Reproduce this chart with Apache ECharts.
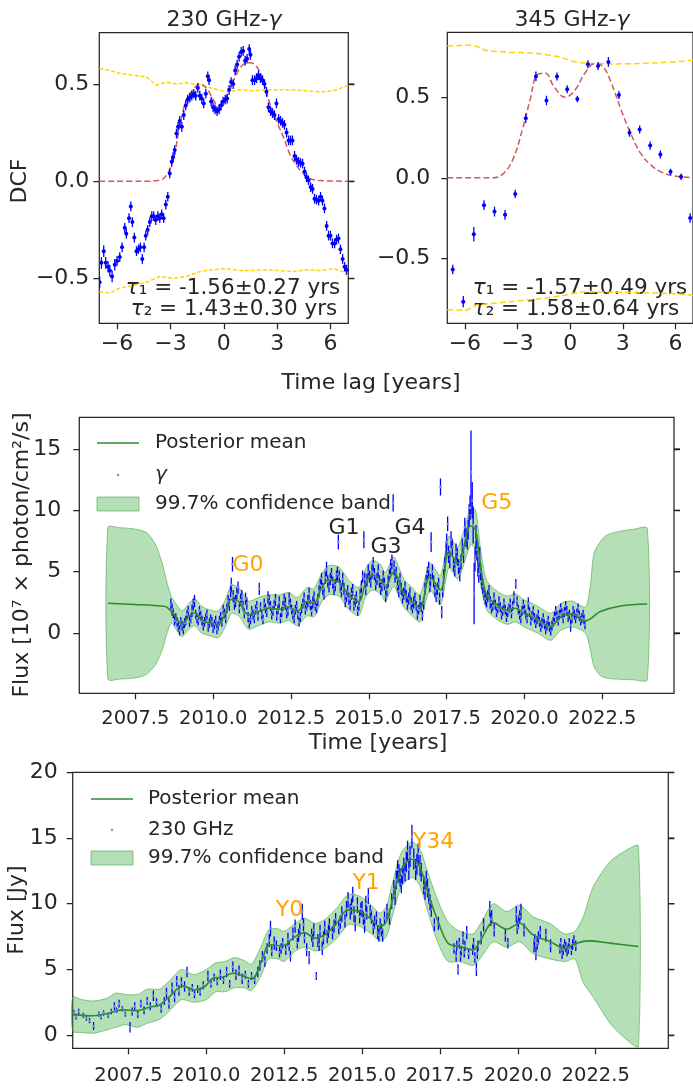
<!DOCTYPE html>
<html><head><meta charset="utf-8">
<script src="https://cdn.jsdelivr.net/npm/echarts@6/dist/echarts.min.js"></script>
<style>html,body{margin:0;padding:0;background:#fff}#c{width:693px;height:1090px}</style>
</head><body><div id="c"></div>
<script>
// ---------------- DATA ----------------
// DCF 230 GHz - gamma : [lag, dcf, err]
const dcf230 = [[-6.98,-0.52,0.03],[-6.88,-0.42,0.03],[-6.75,-0.36,0.03],[-6.64,-0.42,0.03],[-6.51,-0.44,0.03],[-6.41,-0.46,0.03],[-6.28,-0.49,0.03],[-6.13,-0.43,0.03],[-6.00,-0.41,0.025],[-5.85,-0.39,0.025],[-5.72,-0.34,0.025],[-5.57,-0.24,0.025],[-5.48,-0.27,0.025],[-5.33,-0.19,0.025],[-5.23,-0.13,0.025],[-5.14,-0.21,0.025],[-5.03,-0.29,0.025],[-4.91,-0.36,0.025],[-4.80,-0.35,0.025],[-4.69,-0.34,0.025],[-4.58,-0.40,0.025],[-4.48,-0.34,0.025],[-4.39,-0.28,0.025],[-4.28,-0.25,0.025],[-4.16,-0.21,0.025],[-4.05,-0.18,0.025],[-3.94,-0.18,0.025],[-3.83,-0.20,0.025],[-3.71,-0.18,0.025],[-3.60,-0.19,0.025],[-3.49,-0.17,0.025],[-3.38,-0.19,0.025],[-3.26,-0.12,0.025],[-3.15,-0.08,0.025],[-3.04,0.04,0.025],[-2.93,0.10,0.025],[-2.85,0.125,0.025],[-2.76,0.16,0.025],[-2.66,0.245,0.025],[-2.57,0.28,0.025],[-2.48,0.31,0.025],[-2.36,0.28,0.025],[-2.25,0.34,0.025],[-2.14,0.39,0.025],[-2.03,0.42,0.025],[-1.91,0.43,0.025],[-1.80,0.44,0.025],[-1.69,0.45,0.025],[-1.58,0.44,0.025],[-1.46,0.48,0.025],[-1.35,0.44,0.025],[-1.24,0.425,0.025],[-1.13,0.40,0.025],[-1.01,0.45,0.025],[-0.90,0.54,0.025],[-0.83,0.52,0.025],[-0.71,0.41,0.025],[-0.60,0.38,0.025],[-0.49,0.37,0.025],[-0.38,0.36,0.025],[-0.26,0.37,0.025],[-0.15,0.39,0.025],[-0.04,0.41,0.025],[0.08,0.42,0.025],[0.19,0.425,0.025],[0.30,0.47,0.025],[0.41,0.51,0.025],[0.53,0.50,0.025],[0.64,0.57,0.025],[0.75,0.60,0.025],[0.86,0.64,0.025],[0.98,0.665,0.025],[1.09,0.67,0.025],[1.20,0.62,0.025],[1.31,0.63,0.025],[1.43,0.68,0.025],[1.50,0.65,0.025],[1.61,0.52,0.025],[1.73,0.52,0.025],[1.84,0.53,0.025],[1.95,0.545,0.025],[2.06,0.53,0.025],[2.18,0.52,0.025],[2.29,0.50,0.025],[2.40,0.46,0.025],[2.51,0.38,0.025],[2.63,0.36,0.025],[2.74,0.35,0.025],[2.85,0.34,0.025],[2.96,0.40,0.025],[3.08,0.32,0.025],[3.19,0.31,0.025],[3.30,0.30,0.025],[3.41,0.29,0.025],[3.53,0.25,0.025],[3.64,0.21,0.025],[3.75,0.21,0.025],[3.86,0.21,0.025],[3.98,0.13,0.025],[4.09,0.11,0.025],[4.20,0.10,0.025],[4.31,0.095,0.025],[4.43,0.09,0.025],[4.54,0.05,0.025],[4.65,0.02,0.025],[4.76,0.005,0.025],[4.88,-0.03,0.025],[4.99,-0.04,0.025],[5.10,-0.09,0.025],[5.21,-0.095,0.025],[5.33,-0.10,0.025],[5.44,-0.08,0.025],[5.55,-0.10,0.025],[5.66,-0.14,0.025],[5.78,-0.23,0.025],[5.89,-0.28,0.025],[6.00,-0.28,0.025],[6.11,-0.32,0.025],[6.23,-0.32,0.025],[6.34,-0.30,0.025],[6.45,-0.295,0.025],[6.56,-0.35,0.025],[6.68,-0.40,0.025],[6.79,-0.44,0.025],[6.90,-0.455,0.025]];
const fit230 = [[-7,0],[-4.5,0],[-3.6,0.005],[-3.23,0.03],[-2.85,0.11],[-2.48,0.28],[-2.10,0.42],[-1.73,0.47],[-1.35,0.50],[-0.98,0.48],[-0.60,0.42],[-0.32,0.39],[-0.04,0.41],[0.34,0.47],[0.71,0.55],[1.09,0.60],[1.46,0.61],[1.84,0.59],[2.21,0.52],[2.59,0.40],[2.96,0.31],[3.34,0.23],[3.71,0.14],[4.09,0.08],[4.46,0.04],[4.84,0.014],[5.40,0.003],[7,0]];
const up230 = [[-7,0.58],[-6.41,0.57],[-5.85,0.555],[-5.10,0.545],[-4.35,0.537],[-3.79,0.494],[-3.23,0.51],[-2.66,0.50],[-2.10,0.506],[-1.35,0.494],[-0.60,0.477],[0.15,0.46],[0.90,0.47],[1.65,0.465],[2.40,0.47],[3.15,0.47],[3.90,0.47],[4.65,0.465],[5.40,0.46],[6.15,0.465],[6.53,0.477],[7,0.494]];
const lo230 = [[-7,-0.57],[-6.41,-0.575],[-5.85,-0.55],[-5.10,-0.535],[-4.35,-0.52],[-3.60,-0.49],[-2.85,-0.50],[-2.10,-0.49],[-1.35,-0.465],[-0.60,-0.455],[0.15,-0.45],[0.90,-0.46],[1.65,-0.46],[2.40,-0.455],[3.15,-0.46],[3.90,-0.465],[4.65,-0.455],[5.40,-0.46],[6.15,-0.45],[6.70,-0.465],[7,-0.49]];

// DCF 345 GHz - gamma
const dcf345 = [[-6.69,-0.57,0.03],[-6.09,-0.77,0.035],[-5.49,-0.35,0.045],[-4.91,-0.17,0.03],[-4.31,-0.21,0.03],[-3.71,-0.23,0.03],[-3.13,-0.10,0.025],[-2.53,0.37,0.03],[-1.95,0.63,0.03],[-1.35,0.48,0.03],[-0.75,0.63,0.025],[-0.17,0.55,0.025],[0.41,0.49,0.02],[1.01,0.705,0.025],[1.59,0.695,0.025],[2.18,0.72,0.03],[2.78,0.515,0.025],[3.38,0.28,0.025],[3.96,0.30,0.025],[4.56,0.20,0.025],[5.14,0.145,0.025],[5.72,0.037,0.02],[6.32,0.006,0.02],[6.84,-0.25,0.03]];
const fit345 = [[-7,0],[-4.41,0],[-3.84,0.023],[-3.28,0.11],[-2.72,0.30],[-2.25,0.50],[-1.88,0.64],[-1.41,0.65],[-0.94,0.57],[-0.28,0.50],[0.28,0.545],[0.84,0.65],[1.41,0.71],[1.88,0.69],[2.34,0.59],[2.91,0.42],[3.47,0.27],[4.03,0.15],[4.59,0.08],[5.16,0.037],[5.91,0.012],[6.84,0.002],[7,0]];
const up345 = [[-7,0.82],[-6.69,0.82],[-5.53,0.826],[-4.78,0.79],[-3.47,0.78],[-1.97,0.774],[-0.66,0.753],[0.28,0.72],[1.22,0.71],[2.34,0.707],[4.03,0.71],[5.91,0.72],[7,0.73]];
const lo345 = [[-7,-0.82],[-6.69,-0.82],[-5.91,-0.824],[-5.34,-0.79],[-3.47,-0.77],[-1.59,-0.75],[-0.28,-0.73],[0.47,-0.71],[2.16,-0.71],[4.03,-0.714],[5.91,-0.72],[7,-0.73]];

// Gamma-ray light curve: [year, flux(1e-7), err]
const gammaPts = [[2008.64,2.3,0.5],[2008.72,1.6,0.4],[2008.80,1.2,0.4],[2008.88,0.5,0.4],[2008.96,0.9,0.4],[2009.04,0.3,0.4],[2009.12,1.0,0.4],[2009.20,1.8,0.4],[2009.28,1.2,0.4],[2009.36,2.3,0.5],[2009.44,1.5,0.4],[2009.52,1.0,0.4],[2009.60,1.4,0.4],[2009.68,0.6,0.4],[2009.76,1.2,0.4],[2009.84,0.5,0.4],[2009.92,1.1,0.4],[2010.00,0.4,0.4],[2010.08,1.0,0.4],[2010.16,0.6,0.4],[2010.24,1.3,0.4],[2010.32,1.9,0.4],[2010.40,1.2,0.4],[2010.48,2.6,0.5],[2010.56,3.4,0.5],[2010.62,5.6,0.6],[2010.68,2.4,0.5],[2010.76,3.2,0.5],[2010.84,2.0,0.4],[2010.92,3.0,0.5],[2011.00,1.6,0.4],[2011.08,2.4,0.5],[2011.16,0.8,0.4],[2011.24,1.8,0.4],[2011.32,1.2,0.4],[2011.40,2.2,0.4],[2011.48,3.6,0.5],[2011.56,1.5,0.4],[2011.64,2.4,0.4],[2011.72,1.7,0.4],[2011.80,2.6,0.5],[2011.88,1.5,0.4],[2011.96,2.3,0.4],[2012.04,1.4,0.4],[2012.12,2.5,0.5],[2012.20,1.7,0.4],[2012.28,2.7,0.5],[2012.36,1.6,0.4],[2012.44,2.8,0.5],[2012.52,1.9,0.4],[2012.60,1.2,0.4],[2012.68,2.2,0.4],[2012.76,0.9,0.4],[2012.84,2.0,0.4],[2012.92,2.8,0.5],[2013.00,2.2,0.4],[2013.08,3.2,0.5],[2013.16,1.8,0.4],[2013.24,2.9,0.5],[2013.32,2.0,0.4],[2013.40,3.4,0.5],[2013.48,4.4,0.5],[2013.56,3.2,0.5],[2013.64,5.2,0.6],[2013.72,3.8,0.5],[2013.80,4.8,0.5],[2013.88,3.6,0.5],[2013.96,4.6,0.5],[2014.02,7.4,0.6],[2014.08,3.8,0.5],[2014.16,4.4,0.5],[2014.24,2.6,0.5],[2014.32,3.4,0.5],[2014.40,2.3,0.4],[2014.48,3.5,0.5],[2014.56,2.6,0.5],[2014.64,1.8,0.4],[2014.72,3.1,0.5],[2014.80,4.6,0.5],[2014.84,7.6,0.7],[2014.90,3.6,0.5],[2014.98,5.0,0.6],[2015.06,4.2,0.5],[2015.14,5.6,0.6],[2015.22,4.0,0.5],[2015.30,5.0,0.6],[2015.38,3.6,0.5],[2015.46,4.6,0.5],[2015.54,3.0,0.5],[2015.62,4.2,0.5],[2015.70,5.4,0.6],[2015.78,10.6,0.7],[2015.84,4.6,0.5],[2015.92,3.8,0.5],[2016.00,4.4,0.5],[2016.08,2.9,0.5],[2016.16,3.7,0.5],[2016.24,2.4,0.5],[2016.32,3.2,0.5],[2016.40,2.0,0.4],[2016.48,2.8,0.5],[2016.56,1.5,0.4],[2016.64,2.6,0.5],[2016.72,1.4,0.4],[2016.80,3.6,0.5],[2016.88,4.8,0.6],[2016.96,3.8,0.5],[2017.00,7.4,0.8],[2017.08,4.2,0.5],[2017.16,3.0,0.5],[2017.24,4.0,0.5],[2017.30,11.9,0.7],[2017.34,1.7,0.5],[2017.40,4.6,0.6],[2017.48,6.8,0.7],[2017.53,8.9,0.6],[2017.60,6.0,0.7],[2017.68,7.0,0.7],[2017.76,5.2,0.6],[2017.84,6.2,0.7],[2017.92,4.8,0.6],[2018.00,7.0,0.7],[2018.08,8.6,0.8],[2018.16,7.6,0.8],[2018.22,9.6,0.9],[2018.28,13.1,3.4],[2018.32,10.8,1.5],[2018.38,3.2,2.5],[2018.44,7.6,1.2],[2018.50,5.4,0.8],[2018.56,6.2,0.8],[2018.62,4.2,0.6],[2018.70,3.2,0.5],[2018.78,2.6,0.5],[2018.86,3.4,0.5],[2018.94,2.0,0.4],[2019.02,2.8,0.5],[2019.10,1.7,0.4],[2019.18,2.5,0.5],[2019.26,1.5,0.4],[2019.34,2.4,0.4],[2019.42,1.3,0.4],[2019.50,2.0,0.4],[2019.58,1.6,0.4],[2019.66,2.9,0.5],[2019.72,4.0,0.4],[2019.80,1.9,0.4],[2019.88,1.2,0.4],[2019.96,2.3,0.4],[2020.04,1.5,0.4],[2020.12,2.4,0.5],[2020.20,1.0,0.4],[2020.28,1.8,0.4],[2020.36,0.8,0.4],[2020.44,1.5,0.4],[2020.52,0.5,0.4],[2020.60,1.2,0.4],[2020.68,0.3,0.4],[2020.76,1.0,0.4],[2020.84,0.2,0.4],[2020.92,0.9,0.4],[2021.00,1.8,0.4],[2021.08,1.0,0.4],[2021.16,2.0,0.4],[2021.24,1.2,0.4],[2021.32,2.2,0.4],[2021.40,1.3,0.4],[2021.48,0.6,0.5],[2021.56,1.8,0.4],[2021.64,1.2,0.4],[2021.72,2.0,0.4],[2021.80,1.0,0.4],[2021.88,1.5,0.4],[2021.94,0.7,0.4],
[2008.68,1.9,0.5],[2008.76,1.0,0.4],[2008.84,0.9,0.4],[2008.92,0.2,0.4],[2009.00,0.6,0.4],[2009.08,0.8,0.4],[2009.16,1.5,0.4],[2009.24,0.9,0.4],[2009.32,1.8,0.5],[2009.40,2.6,0.5],[2009.48,1.2,0.4],[2009.56,1.8,0.4],[2009.64,1.0,0.4],[2009.72,0.9,0.4],[2009.80,1.5,0.4],[2009.88,0.8,0.4],[2009.96,0.9,0.4],[2010.04,0.7,0.4],[2010.12,0.3,0.4],[2010.20,1.0,0.4],[2010.28,0.9,0.4],[2010.36,1.6,0.4],[2010.44,2.0,0.4],[2010.52,2.3,0.5],[2010.58,3.9,0.6],[2010.64,3.0,0.5],[2010.72,2.6,0.5],[2010.80,3.7,0.5],[2010.88,2.7,0.5],[2010.96,2.2,0.4],[2011.04,2.8,0.5],[2011.12,1.3,0.4],[2011.20,1.1,0.4],[2011.28,1.5,0.4],[2011.36,1.9,0.4],[2011.44,1.4,0.4],[2011.52,2.1,0.4],[2011.60,1.1,0.4],[2011.68,2.0,0.4],[2011.76,2.9,0.5],[2011.84,2.2,0.4],[2011.92,1.8,0.4],[2012.00,2.7,0.5],[2012.08,1.9,0.4],[2012.16,1.2,0.4],[2012.24,2.2,0.4],[2012.32,2.4,0.5],[2012.40,1.8,0.4],[2012.48,2.4,0.4],[2012.56,1.5,0.4],[2012.64,1.9,0.4],[2012.72,1.5,0.4],[2012.80,1.3,0.4],[2012.88,2.4,0.4],[2012.96,1.9,0.4],[2013.04,2.6,0.5],[2013.12,2.3,0.4],[2013.20,2.5,0.5],[2013.28,2.2,0.4],[2013.36,2.7,0.5],[2013.44,3.9,0.5],[2013.52,3.6,0.5],[2013.60,4.5,0.5],[2013.68,4.2,0.5],[2013.76,4.4,0.5],[2013.84,4.1,0.5],[2013.92,3.9,0.5],[2013.99,4.8,0.6],[2014.05,4.6,0.5],[2014.12,3.4,0.5],[2014.20,3.6,0.5],[2014.28,3.0,0.5],[2014.36,2.8,0.5],[2014.44,3.2,0.5],[2014.52,2.2,0.4],[2014.60,2.9,0.5],[2014.68,2.2,0.4],[2014.76,3.8,0.5],[2014.87,4.4,0.5],[2014.94,4.3,0.5],[2015.02,4.6,0.5],[2015.10,5.0,0.6],[2015.18,4.8,0.5],[2015.26,4.4,0.5],[2015.34,4.2,0.5],[2015.42,3.9,0.5],[2015.50,4.0,0.5],[2015.58,3.5,0.5],[2015.66,4.7,0.5],[2015.74,5.8,0.6],[2015.81,5.3,0.6],[2015.88,4.9,0.5],[2015.96,3.4,0.5],[2016.04,3.6,0.5],[2016.12,3.2,0.5],[2016.20,3.0,0.5],[2016.28,2.8,0.5],[2016.36,2.4,0.5],[2016.44,2.5,0.5],[2016.52,2.2,0.4],[2016.60,1.9,0.4],[2016.68,2.1,0.4],[2016.76,2.4,0.5],[2016.84,4.2,0.5],[2016.92,5.2,0.6],[2016.98,4.3,0.5],[2017.04,5.0,0.6],[2017.12,3.4,0.5],[2017.20,3.6,0.5],[2017.27,2.8,0.5],[2017.37,3.4,0.5],[2017.44,5.6,0.6],[2017.50,7.4,0.7],[2017.56,6.4,0.7],[2017.64,7.6,0.7],[2017.72,5.6,0.6],[2017.80,6.6,0.7],[2017.88,5.4,0.6],[2017.96,5.8,0.6],[2018.04,6.4,0.7],[2018.12,7.8,0.8],[2018.19,8.4,0.8],[2018.25,10.2,1.0],[2018.35,8.8,1.5],[2018.41,6.0,1.0],[2018.47,6.8,0.9],[2018.53,4.8,0.7],[2018.59,5.0,0.7],[2018.66,3.8,0.6],[2018.74,2.8,0.5],[2018.82,3.0,0.5],[2018.90,2.5,0.5],[2018.98,2.2,0.4],[2019.06,2.3,0.4],[2019.14,2.0,0.4],[2019.22,2.1,0.4],[2019.30,1.8,0.4],[2019.38,1.9,0.4],[2019.46,1.7,0.4],[2019.54,2.4,0.4],[2019.62,2.2,0.4],[2019.76,2.6,0.4],[2019.84,1.5,0.4],[2019.92,1.8,0.4],[2020.00,1.9,0.4],[2020.08,1.2,0.4],[2020.16,1.7,0.4],[2020.24,1.4,0.4],[2020.32,1.2,0.4],[2020.40,1.1,0.4],[2020.48,0.9,0.4],[2020.56,0.8,0.4],[2020.64,0.7,0.4],[2020.72,0.6,0.4],[2020.80,0.5,0.4],[2020.88,0.6,0.4],[2020.96,1.3,0.4],[2021.04,1.4,0.4],[2021.12,1.5,0.4],[2021.20,1.6,0.4],[2021.28,1.7,0.4],[2021.36,1.8,0.4],[2021.44,1.5,0.4],[2021.52,1.2,0.4],[2021.60,1.5,0.4],[2021.68,1.6,0.4],[2021.76,1.4,0.4],[2021.84,1.2,0.4],[2021.91,1.1,0.4]];
const gammaMean = [[2006.62,2.42],[2007.5,2.32],[2008.3,2.2],[2008.52,2.09],[2008.79,1.33],[2008.98,0.73],[2009.22,1.33],[2009.41,1.65],[2009.62,1.06],[2009.86,0.84],[2010.16,0.73],[2010.37,1.47],[2010.59,2.75],[2010.82,2.55],[2011.14,1.47],[2011.46,1.74],[2011.79,2.01],[2012.11,1.93],[2012.43,2.14],[2012.70,1.74],[2013.02,2.55],[2013.23,2.42],[2013.50,3.77],[2013.71,4.32],[2014.03,4.18],[2014.36,3.10],[2014.68,2.55],[2014.89,4.05],[2015.11,4.73],[2015.37,4.38],[2015.53,3.77],[2015.80,5.0],[2016.12,3.24],[2016.39,2.55],[2016.64,2.01],[2016.96,4.59],[2017.30,3.50],[2017.57,6.63],[2017.86,5.68],[2018.27,8.72],[2018.43,8.39],[2018.59,5.40],[2018.78,3.10],[2019.12,2.28],[2019.44,1.87],[2019.71,2.01],[2019.98,1.60],[2020.41,1.11],[2020.84,0.52],[2021.16,1.33],[2021.53,1.55],[2021.95,0.98],[2022.44,1.74],[2023.08,2.20],[2023.94,2.36]];
// [year, lower, upper]
const gammaBand = [[2006.62,-3.77,8.61],[2007.0,-3.76,8.58],[2007.4,-3.7,8.5],[2007.7,-3.55,8.35],[2007.9,-3.3,8.1],[2008.15,-2.6,7.2],[2008.36,-1.4,5.7],[2008.52,0.0,4.07],[2008.66,0.8,2.96],[2008.8,0.3,2.4],[2009.0,-0.3,1.8],[2009.22,0.3,2.4],[2009.41,0.6,2.8],[2009.62,0.0,2.2],[2009.86,-0.2,1.9],[2010.16,-0.4,1.8],[2010.37,0.4,2.6],[2010.59,1.6,3.9],[2010.82,1.4,3.7],[2011.14,0.3,2.6],[2011.46,0.6,2.9],[2011.79,0.9,3.1],[2012.11,0.8,3.1],[2012.43,1.0,3.3],[2012.70,0.6,2.9],[2013.02,1.4,3.7],[2013.23,1.3,3.6],[2013.50,2.6,4.9],[2013.71,3.1,5.5],[2014.03,3.0,5.4],[2014.36,1.9,4.3],[2014.68,1.4,3.7],[2014.89,2.9,5.2],[2015.11,3.5,5.9],[2015.37,3.2,5.6],[2015.53,2.6,4.9],[2015.80,3.8,6.2],[2016.12,2.1,4.4],[2016.39,1.4,3.7],[2016.64,0.9,3.1],[2016.96,3.5,5.7],[2017.30,2.3,4.7],[2017.57,5.3,7.9],[2017.86,4.4,7.0],[2018.27,7.2,10.2],[2018.43,6.8,10.0],[2018.59,4.0,6.8],[2018.78,1.9,4.3],[2019.12,1.1,3.4],[2019.44,0.7,3.0],[2019.71,0.9,3.2],[2019.98,0.5,2.7],[2020.41,0.0,2.2],[2020.84,-0.6,1.6],[2021.16,0.2,2.4],[2021.53,0.5,2.6],[2021.95,0.0,2.1],[2022.1,-1.2,3.6],[2022.23,-2.75,6.5],[2022.45,-3.5,7.5],[2022.66,-3.7,8.0],[2023.08,-3.78,8.3],[2023.5,-3.82,8.45],[2023.94,-3.83,8.53]];

// 230 GHz light curve: [year, flux Jy, err]
const mmPts = [[2005.75,1.7,0.2],[2005.82,1.4,0.2],[2005.90,1.8,0.2],[2006.05,1.5,0.2],[2006.15,1.3,0.2],[2006.25,1.1,0.2],[2006.38,0.7,0.3],[2006.55,1.6,0.2],[2006.62,1.4,0.2],[2006.70,1.7,0.2],[2006.85,1.5,0.2],[2006.95,1.8,0.2],[2007.05,2.2,0.3],[2007.12,1.9,0.2],[2007.20,2.4,0.3],[2007.30,2.0,0.2],[2007.40,1.6,0.2],[2007.55,0.6,0.4],[2007.62,1.8,0.3],[2007.70,2.2,0.3],[2007.80,1.6,0.3],[2007.90,2.4,0.3],[2008.00,1.9,0.3],[2008.10,2.6,0.3],[2008.20,2.2,0.3],[2008.30,3.0,0.4],[2008.40,2.5,0.3],[2008.55,2.0,0.3],[2008.65,2.6,0.3],[2008.72,3.2,0.4],[2008.80,2.4,0.4],[2008.90,3.6,0.4],[2008.98,2.9,0.4],[2009.05,4.1,0.4],[2009.12,3.4,0.4],[2009.20,4.0,0.4],[2009.30,3.7,0.4],[2009.38,4.8,0.4],[2009.45,3.3,0.3],[2009.55,3.6,0.3],[2009.62,3.1,0.3],[2009.72,3.5,0.3],[2009.80,3.3,0.3],[2009.90,3.8,0.3],[2010.05,4.5,0.4],[2010.15,3.9,0.3],[2010.25,4.4,0.3],[2010.35,4.1,0.3],[2010.45,4.6,0.4],[2010.55,4.2,0.3],[2010.65,4.8,0.4],[2010.75,3.9,0.3],[2010.85,5.2,0.4],[2010.95,4.6,0.4],[2011.05,4.9,0.4],[2011.15,4.3,0.4],[2011.25,4.6,0.3],[2011.35,3.9,0.3],[2011.45,4.5,0.3],[2011.55,4.2,0.3],[2011.65,4.8,0.4],[2011.72,5.3,0.4],[2011.80,6.0,0.4],[2011.88,5.6,0.4],[2011.95,6.6,0.4],[2012.02,7.2,0.5],[2012.06,8.1,0.6],[2012.10,6.4,0.4],[2012.18,7.0,0.5],[2012.25,6.8,0.4],[2012.35,6.3,0.4],[2012.45,7.0,0.4],[2012.55,6.5,0.4],[2012.62,7.3,0.5],[2012.70,6.0,0.4],[2012.78,7.7,0.5],[2012.85,8.3,0.5],[2012.92,7.0,0.4],[2013.00,8.0,0.5],[2013.08,9.4,0.6],[2013.15,7.4,0.4],[2013.22,6.5,0.5],[2013.30,5.9,0.5],[2013.38,7.6,0.5],[2013.45,8.0,0.5],[2013.53,4.5,0.3],[2013.58,7.2,0.5],[2013.65,7.9,0.5],[2013.72,6.6,0.5],[2013.80,8.2,0.5],[2013.88,7.5,0.5],[2013.95,8.4,0.5],[2014.05,7.8,0.5],[2014.15,8.8,0.5],[2014.25,8.2,0.5],[2014.35,9.2,0.6],[2014.45,8.7,0.5],[2014.55,10.3,0.6],[2014.62,9.4,0.6],[2014.70,10.7,0.6],[2014.78,8.5,0.6],[2014.85,9.9,0.6],[2014.92,9.0,0.5],[2015.00,9.6,0.6],[2015.08,8.4,0.6],[2015.15,9.3,0.5],[2015.20,10.6,0.6],[2015.30,9.0,0.5],[2015.40,8.6,0.5],[2015.50,7.8,0.5],[2015.58,8.4,0.5],[2015.66,7.6,0.5],[2015.72,8.9,0.5],[2015.80,9.4,0.6],[2015.88,9.0,0.6],[2015.95,10.2,0.6],[2016.02,11.1,0.7],[2016.10,11.8,0.7],[2016.18,12.3,0.7],[2016.26,11.5,0.7],[2016.34,12.8,0.7],[2016.42,13.2,0.8],[2016.50,12.6,0.8],[2016.60,15.1,0.9],[2016.66,13.4,0.8],[2016.72,12.6,0.8],[2016.80,13.8,0.8],[2016.90,12.4,0.7],[2016.98,11.4,0.7],[2017.06,11.8,0.7],[2017.14,10.6,0.6],[2017.22,9.6,0.6],[2017.32,8.4,0.5],[2017.45,8.5,0.5],[2017.95,6.6,0.4],[2018.02,6.0,0.4],[2018.08,5.0,0.4],[2018.12,7.0,0.4],[2018.18,6.4,0.4],[2018.24,7.4,0.5],[2018.30,6.8,0.4],[2018.36,7.8,0.5],[2018.42,6.2,0.4],[2018.55,6.5,0.4],[2018.62,5.9,0.4],[2018.67,5.0,0.5],[2018.72,6.8,0.4],[2018.82,7.4,0.5],[2018.90,8.4,0.5],[2019.10,9.6,0.6],[2019.16,9.0,0.5],[2019.24,8.0,0.5],[2019.60,7.6,0.5],[2019.68,7.0,0.4],[2019.95,9.2,0.6],[2020.02,8.6,0.5],[2020.10,9.4,0.6],[2020.20,8.0,0.5],[2020.52,6.8,0.5],[2020.58,6.2,0.5],[2020.66,7.4,0.5],[2020.72,7.8,0.5],[2020.90,7.6,0.5],[2021.05,6.8,0.5],[2021.35,6.6,0.4],[2021.42,6.2,0.4],[2021.50,6.9,0.4],[2021.58,6.4,0.4],[2021.65,7.0,0.4],[2021.72,6.5,0.4],[2021.80,7.2,0.4],[2021.86,6.8,0.4],
[2012.40,6.6,0.4],[2012.66,6.8,0.4],[2012.96,7.6,0.5],[2013.12,8.4,0.5],[2013.42,7.2,0.5],[2013.62,6.9,0.5],[2013.76,7.4,0.5],[2013.92,7.9,0.5],[2014.10,8.3,0.5],[2014.30,8.6,0.5],[2014.50,9.6,0.6],[2014.66,9.8,0.6],[2014.74,9.2,0.6],[2014.96,9.6,0.5],[2015.04,8.9,0.5],[2015.12,10.0,0.6],[2015.26,9.4,0.5],[2015.36,8.2,0.5],[2015.46,8.9,0.5],[2015.54,7.6,0.5],[2015.62,8.0,0.5],[2016.06,10.6,0.7],[2016.14,12.6,0.7],[2016.22,12.0,0.7],[2016.30,12.2,0.7],[2016.38,12.4,0.7],[2016.46,14.0,0.8],[2016.54,13.6,0.8],[2016.76,13.0,0.8],[2016.86,12.9,0.8],[2017.02,11.0,0.7],[2017.10,11.2,0.7],[2017.18,10.1,0.6],[2018.04,6.8,0.4],[2018.16,6.0,0.4],[2018.28,6.3,0.4],[2018.58,7.0,0.4],[2018.70,6.2,0.4],[2019.13,8.8,0.5],[2019.98,8.2,0.5],[2020.06,9.0,0.5],[2020.54,7.2,0.5],[2020.62,7.0,0.5],[2021.38,7.0,0.4],[2021.46,6.5,0.4],[2021.54,6.7,0.4],[2021.62,6.6,0.4],[2021.76,6.9,0.4]];
const mmMean = [[2005.71,1.60],[2006.25,1.47],[2006.79,1.62],[2007.32,1.92],[2007.75,1.87],[2008.18,2.13],[2008.50,2.30],[2008.82,2.94],[2009.25,3.75],[2009.62,3.44],[2009.95,3.70],[2010.21,4.33],[2010.53,4.41],[2010.85,4.71],[2011.18,4.51],[2011.45,4.26],[2011.77,5.60],[2012.03,6.87],[2012.46,6.80],[2012.78,7.38],[2013.16,7.80],[2013.48,7.38],[2013.80,7.63],[2014.18,8.51],[2014.55,9.53],[2014.92,9.40],[2015.25,8.90],[2015.57,8.26],[2015.78,8.64],[2016.0,10.54],[2016.26,12.57],[2016.59,13.38],[2016.85,12.82],[2017.12,10.80],[2017.44,8.64],[2017.76,7.00],[2018.14,6.74],[2018.56,6.49],[2018.78,7.12],[2019.21,8.56],[2019.64,8.06],[2020.06,8.51],[2020.49,7.63],[2021.03,7.12],[2021.51,6.61],[2021.83,6.94],[2022.26,7.17],[2022.96,7.00],[2023.87,6.74]];
const mmBand = [[2005.71,0.3,2.9],[2006.0,0.2,2.7],[2006.4,0.15,2.6],[2006.8,0.4,2.8],[2007.1,0.6,3.2],[2007.4,0.8,3.1],[2007.8,0.6,3.1],[2008.1,0.9,3.5],[2008.5,1.2,3.5],[2008.8,1.8,4.1],[2009.2,2.7,5.0],[2009.6,2.5,4.6],[2010.0,2.7,5.0],[2010.3,3.3,5.5],[2010.6,3.3,5.6],[2010.9,3.6,5.9],[2011.2,3.6,5.7],[2011.45,3.4,5.4],[2011.75,4.5,6.7],[2012.0,5.8,8.0],[2012.3,5.8,8.1],[2012.5,5.6,7.9],[2012.8,6.3,8.4],[2013.15,6.7,8.9],[2013.5,6.4,8.5],[2013.8,6.6,8.8],[2014.2,7.4,9.7],[2014.55,8.4,10.7],[2014.9,8.3,10.6],[2015.25,7.8,10.0],[2015.57,7.2,9.3],[2015.78,7.5,9.8],[2016.0,9.3,11.8],[2016.26,11.3,13.9],[2016.59,12.0,14.7],[2016.85,11.4,14.2],[2017.12,9.3,12.3],[2017.44,7.0,10.2],[2017.76,5.6,8.6],[2018.14,5.6,7.9],[2018.56,5.3,7.7],[2018.78,5.8,8.4],[2019.21,7.1,10.0],[2019.64,6.7,9.4],[2020.06,7.1,9.9],[2020.49,6.2,9.0],[2021.03,5.8,8.5],[2021.51,5.6,7.7],[2021.83,5.8,7.9],[2022.1,4.0,9.0],[2022.42,2.9,11.3],[2022.96,0.9,13.2],[2023.5,-0.36,14.1],[2023.87,-0.87,14.4]];

const gammaNotes = [['G0',2010.62,5.54,'#ffa500'],['G1',2013.70,8.56,'#262626'],['G3',2015.05,7.01,'#262626'],['G4',2015.82,8.56,'#262626'],['G5',2018.61,10.6,'#ffa500']];
const mmNotes = [['Y0',2012.23,9.53,'#ffa500'],['Y1',2014.69,11.58,'#ffa500'],['Y34',2016.63,14.64,'#ffa500']];

const dcfTicks = [-6,-3,0,3,6];
const dcfYTicks = [-0.5,0,0.5];
const yearTicks = [2007.5,2010,2012.5,2015,2017.5,2020,2022.5];
const gammaYTicks = [0,5,10,15];
const mmYTicks = [0,5,10,15,20];

// ---------------- STYLE ----------------
const FONT = 'DejaVu Sans';
const TXT = '#262626';
const FS = 22;
const FS_YEAR = 19.5;
const FS_LEG = 20;
const FS_TAU = 21.5;
const GREEN = '#2e8b2e';
const BAND_FILL = 'rgba(60,170,60,0.38)';
const BAND_EDGE = 'rgba(60,160,60,0.55)';
const DOT = '#7d97c9';

const minusInt = v => (v < 0 ? '\u2212' + Math.abs(v) : String(v));
const minus1 = v => (v < 0 ? '\u2212' : '') + Math.abs(v).toFixed(1);

function xAx(grid, min, max, ticks, fmt, margin, fs) {
  return {type:'value', gridIndex:grid, min, max,
    axisLine:{show:false, onZero:false}, splitLine:{show:false},
    axisTick:{show:true, length:6, customValues:ticks, lineStyle:{color:TXT, width:1.25}},
    axisLabel:{show:true, customValues:ticks, formatter:fmt, margin, color:TXT, fontSize:fs || FS, fontFamily:FONT}};
}
function yAx(grid, min, max, ticks, fmt, margin, right) {
  return {type:'value', gridIndex:grid, min, max, position: right ? 'right' : 'left',
    axisLine:{show:false, onZero:false}, splitLine:{show:false},
    axisTick:{show:true, length:6, customValues:ticks, lineStyle:{color:TXT, width:1.25}},
    axisLabel:{show:!right, customValues:ticks, formatter:fmt, margin, color:TXT, fontSize:FS, fontFamily:FONT}};
}
// tick marks on the right-hand spine, placed through the axis scales
function rightTicks(xi, yi, xMax, ticks) {
  return {type:'custom', xAxisIndex:xi, yAxisIndex:yi, clip:false, silent:true, z:10,
    data: ticks.map(v => [xMax, v]),
    renderItem: (params, api) => {
      const p = api.coord([api.value(0), api.value(1)]);
      return {type:'line', shape:{x1:p[0], y1:p[1], x2:p[0] + 6, y2:p[1]}, style:{stroke:TXT, lineWidth:1.25}};
    }};
}

function errRender(color, dotColor, r, cap) {
  return function(params, api) {
    const x = api.value(0), y = api.value(1), e = api.value(2);
    const p = api.coord([x, y]);
    const t = api.coord([x, y + e]);
    const b = api.coord([x, y - e]);
    const ch = [
      {type:'line', shape:{x1:p[0], y1:t[1], x2:p[0], y2:b[1]}, style:{stroke:color, lineWidth:1.3}},
      {type:'circle', shape:{cx:p[0], cy:p[1], r:r}, style:{fill:dotColor}}
    ];
    if (cap) ch.push({type:'line', shape:{x1:p[0]-cap, y1:p[1], x2:p[0]+cap, y2:p[1]}, style:{stroke:color, lineWidth:1.3}});
    return {type:'group', children:ch};
  };
}
function bandRender(band) {
  return function(params, api) {
    const pts = [];
    band.forEach(d => pts.push(api.coord([d[0], d[2]])));
    for (let i = band.length - 1; i >= 0; i--) pts.push(api.coord([band[i][0], band[i][1]]));
    return {type:'polygon', shape:{points:pts, smooth:0.25}, style:{fill:BAND_FILL, stroke:BAND_EDGE, lineWidth:1}};
  };
}
function notes(list, xi, yi) {
  return {type:'scatter', xAxisIndex:xi, yAxisIndex:yi, symbolSize:0, silent:true, z:6,
    itemStyle:{opacity:1},
    data: list.map(n => ({value:[n[1], n[2]], label:{show:true, formatter:n[0], color:n[3], opacity:1}})),
    label:{show:true, position:'right', distance:0, fontSize:FS, fontFamily:FONT, textBorderWidth:0, opacity:1}};
}
function dashed(data, xi, yi, color, dash, smooth) {
  return {type:'line', xAxisIndex:xi, yAxisIndex:yi, data, symbol:'none', smooth: smooth || false, silent:true,
    lineStyle:{color, width:1.5, type:dash}, z:2};
}
function txt(x, y, text, opts) {
  const o = opts || {};
  return {type:'text', x, y, rotation:o.rot || 0,
    style:Object.assign({text, fontSize:o.fs || FS, fontFamily:FONT, fill:TXT, align:o.align || 'center', verticalAlign:'middle',
      rich:{i:{fontStyle:'italic', fontSize:o.fs || FS, fontFamily:FONT, fill:TXT}}}, o.style || {})};
}

const chart = echarts.init(document.getElementById('c'), null, {renderer:'canvas'});
const gridStyle = {show:true, borderColor:TXT, borderWidth:1.25, backgroundColor:'transparent', containLabel:false};

const option = {
  animation:false,
  backgroundColor:'#fff',
  textStyle:{fontFamily:FONT},
  grid:[
    Object.assign({left:99.3, top:32.7, width:249, height:290.6}, gridStyle),
    Object.assign({left:447.3, top:32.3, width:249, height:291}, gridStyle),
    Object.assign({left:79.3, top:417.3, width:594.7, height:276}, gridStyle),
    Object.assign({left:72.7, top:772.3, width:595.6, height:276}, gridStyle)
  ],
  xAxis:[
    xAx(0, -7, 7, dcfTicks, minusInt, 10),
    xAx(1, -7, 7, dcfTicks, minusInt, 10),
    xAx(2, 2005.7, 2024.8, yearTicks, v => v.toFixed(1), 15.5, FS_YEAR),
    xAx(3, 2005.71, 2024.83, yearTicks, v => v.toFixed(1), 18, FS_YEAR)
  ],
  yAxis:[
    yAx(0, -0.731, 0.764, dcfYTicks, minus1, 10),
    yAx(1, -0.904, 0.904, dcfYTicks, minus1, 17),
    yAx(2, -4.92, 17.58, gammaYTicks, v => String(v), 18),
    yAx(3, -1, 20, mmYTicks, v => String(v), 15),
    yAx(0, -0.731, 0.764, dcfYTicks, null, 10, true),
    yAx(2, -4.92, 17.58, gammaYTicks, null, 18, true),
    yAx(3, -1, 20, mmYTicks, null, 15, true)
  ],
  series:[
    // DCF 230
    dashed(up230, 0, 0, '#ffd400', [4,2]),
    dashed(lo230, 0, 0, '#ffd400', [4,2]),
    dashed(fit230, 0, 0, '#d05a56', [6,3], 0.4),
    {type:'custom', xAxisIndex:0, yAxisIndex:0, data:dcf230, renderItem:errRender('#0000ff', '#0000ff', 2, 1.5), clip:true, z:3, silent:true},
    rightTicks(0, 0, 7, dcfYTicks),
    // DCF 345
    dashed(up345, 1, 1, '#ffd400', [6,3]),
    dashed(lo345, 1, 1, '#ffd400', [6,3]),
    dashed(fit345, 1, 1, '#d05a56', [6,3], 0.4),
    {type:'custom', xAxisIndex:1, yAxisIndex:1, data:dcf345, renderItem:errRender('#0000ff', '#0000ff', 2, 1.5), clip:true, z:3, silent:true},
    // Gamma light curve
    {type:'custom', name:'99.7% confidence band', xAxisIndex:2, yAxisIndex:2, data:[[gammaBand[0][0], gammaBand[0][1]]], renderItem:bandRender(gammaBand), z:1, silent:true},
    {type:'custom', name:'\u03b3', xAxisIndex:2, yAxisIndex:2, data:gammaPts, renderItem:errRender('#0000ff', DOT, 1.3, 0), clip:true, z:2, silent:true},
    {type:'line', name:'Posterior mean', xAxisIndex:2, yAxisIndex:2, data:gammaMean, symbol:'none', smooth:0.35, lineStyle:{color:GREEN, width:1.6}, z:4, silent:true},
    notes(gammaNotes, 2, 2),
    rightTicks(2, 2, 2024.8, gammaYTicks),
    // 230 GHz light curve
    {type:'custom', name:'99.7% confidence band', xAxisIndex:3, yAxisIndex:3, data:[[mmBand[0][0], mmBand[0][1]]], renderItem:bandRender(mmBand), z:1, silent:true},
    {type:'custom', name:'230 GHz', xAxisIndex:3, yAxisIndex:3, data:mmPts, renderItem:errRender('#0000ff', DOT, 1.3, 0), clip:true, z:2, silent:true},
    {type:'line', name:'Posterior mean', xAxisIndex:3, yAxisIndex:3, data:mmMean, symbol:'none', smooth:0.35, lineStyle:{color:GREEN, width:1.6}, z:4, silent:true},
    notes(mmNotes, 3, 3),
    rightTicks(3, 3, 2024.83, mmYTicks)
  ],
  graphic:[
    txt(224, 20, '230 GHz-{i|\u03b3}'),
    txt(572, 20, '345 GHz-{i|\u03b3}'),
    txt(233, 288, '{i|\u03c4}\u2081 = -1.56\u00b10.27 yrs', {fs:FS_TAU}),
    txt(234, 309, '{i|\u03c4}\u2082 = 1.43\u00b10.30 yrs', {fs:FS_TAU}),
    txt(580, 288, '{i|\u03c4}\u2081 = -1.57\u00b10.49 yrs', {fs:FS_TAU}),
    txt(576, 309, '{i|\u03c4}\u2082 = 1.58\u00b10.64 yrs', {fs:FS_TAU}),
    txt(20, 181, 'DCF', {rot:Math.PI/2}),
    txt(371, 383, 'Time lag [years]'),
    txt(22, 555, 'Flux [10\u2077 \u00d7 photon/cm\u00b2/s]', {rot:Math.PI/2}),
    txt(378, 743, 'Time [years]'),
    txt(17, 910, 'Flux [Jy]', {rot:Math.PI/2}),
    // legend (gamma)
    {type:'line', shape:{x1:97, y1:443, x2:139, y2:443}, style:{stroke:GREEN, lineWidth:1.6}},
    txt(155, 443, 'Posterior mean', {fs:FS_LEG, align:'left'}),
    {type:'circle', shape:{cx:118, cy:475, r:1.3}, style:{fill:DOT}},
    txt(155, 475, '{i|\u03b3}', {fs:FS_LEG, align:'left'}),
    {type:'rect', shape:{x:97, y:497, width:42, height:14}, style:{fill:BAND_FILL, stroke:BAND_EDGE, lineWidth:1}},
    txt(155, 504, '99.7% confidence band', {fs:FS_LEG, align:'left'}),
    // legend (230 GHz)
    {type:'line', shape:{x1:91, y1:799, x2:133, y2:799}, style:{stroke:GREEN, lineWidth:1.6}},
    txt(148, 799, 'Posterior mean', {fs:FS_LEG, align:'left'}),
    {type:'circle', shape:{cx:112, cy:830, r:1.3}, style:{fill:DOT}},
    txt(148, 830, '230 GHz', {fs:FS_LEG, align:'left'}),
    {type:'rect', shape:{x:91, y:851, width:42, height:14}, style:{fill:BAND_FILL, stroke:BAND_EDGE, lineWidth:1}},
    txt(148, 858, '99.7% confidence band', {fs:FS_LEG, align:'left'})
  ]
};
chart.setOption(option);
</script>
</body></html>
